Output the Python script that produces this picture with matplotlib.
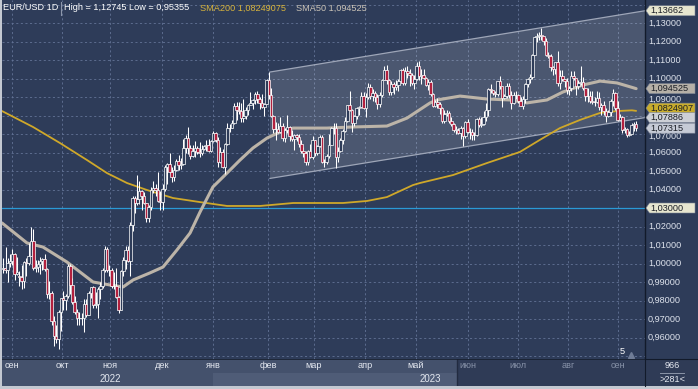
import matplotlib
matplotlib.use("Agg")
import matplotlib.pyplot as plt
from matplotlib.patches import Polygon, Rectangle
import numpy as np

# ---------------- data (EUR/USD daily, 25 Aug 2022 .. 13 Sep 2023) ----------------
opens = [
 0.9969, 0.9974, 0.9964, 1.0001, 1.0015, 1.0054, 0.9945, 0.9930, 0.9929, 0.9904,
 1.0009, 1.0001, 1.0040, 1.0120, 0.9975, 0.9979, 0.9997, 1.0016, 1.0025, 0.9971,
 0.9837, 0.9838, 0.9690, 0.9606, 0.9593, 0.9736, 0.9815, 0.9802, 0.9826, 0.9986,
 0.9885, 0.9793, 0.9740, 0.9703, 0.9706, 0.9703, 0.9779, 0.9722, 0.9840, 0.9875,
 0.9774, 0.9780, 0.9861, 0.9877, 0.9964, 1.0078, 0.9965, 0.9966, 0.9881, 0.9876,
 0.9818, 0.9751, 0.9960, 1.0017, 1.0075, 1.0011, 1.0210, 1.0355, 1.0326, 1.0347,
 1.0393, 1.0363, 1.0325, 1.0244, 1.0304, 1.0397, 1.0407, 1.0398, 1.0339, 1.0330,
 1.0405, 1.0522, 1.0537, 1.0493, 1.0468, 1.0505, 1.0556, 1.0531, 1.0538, 1.0627,
 1.0681, 1.0626, 1.0583, 1.0607, 1.0623, 1.0605, 1.0595, 1.0621, 1.0635, 1.0641,
 1.0610, 1.0661, 1.0705, 1.0669, 1.0548, 1.0604, 1.0522, 1.0644, 1.0731, 1.0734,
 1.0761, 1.0853, 1.0829, 1.0822, 1.0788, 1.0795, 1.0830, 1.0856, 1.0870, 1.0885,
 1.0916, 1.0891, 1.0868, 1.0847, 1.0863, 1.0990, 1.0910, 1.0795, 1.0727, 1.0726,
 1.0713, 1.0741, 1.0678, 1.0722, 1.0737, 1.0689, 1.0675, 1.0693, 1.0686, 1.0647,
 1.0606, 1.0596, 1.0546, 1.0607, 1.0576, 1.0667, 1.0596, 1.0635, 1.0682, 1.0550,
 1.0546, 1.0583, 1.0640, 1.0731, 1.0732, 1.0577, 1.0610, 1.0670, 1.0716, 1.0768,
 1.0857, 1.0830, 1.0760, 1.0799, 1.0843, 1.0844, 1.0905, 1.0839, 1.0901, 1.0956,
 1.0904, 1.0921, 1.0902, 1.0860, 1.0913, 1.0994, 1.1047, 1.0993, 1.0926, 1.0971,
 1.0955, 1.0967, 1.0989, 1.1048, 1.0973, 1.1042, 1.1028, 1.1019, 1.0974, 1.0995,
 1.1069, 1.1012, 1.1018, 1.1005, 1.0963, 1.0982, 1.0915, 1.0850, 1.0872, 1.0862,
 1.0842, 1.0770, 1.0806, 1.0813, 1.0771, 1.0752, 1.0724, 1.0724, 1.0706, 1.0735,
 1.0689, 1.0763, 1.0709, 1.0712, 1.0693, 1.0697, 1.0781, 1.0750, 1.0752, 1.0792,
 1.0831, 1.0945, 1.0939, 1.0920, 1.0917, 1.0985, 1.0958, 1.0893, 1.0905, 1.0962,
 1.0912, 1.0865, 1.0909, 1.0911, 1.0880, 1.0853, 1.0888, 1.0968, 1.0999, 1.1010,
 1.1128, 1.1226, 1.1228, 1.1237, 1.1228, 1.1200, 1.1128, 1.1124, 1.1064, 1.1054,
 1.1087, 1.0977, 1.1016, 1.0996, 1.0985, 1.0938, 1.0946, 1.1014, 1.1002, 1.0958,
 1.0974, 1.0981, 1.0946, 1.0904, 1.0907, 1.0876, 1.0872, 1.0871, 1.0896, 1.0845,
 1.0859, 1.0825, 1.0798, 1.0817, 1.0881, 1.0922, 1.0843, 1.0775, 1.0794, 1.0721,
 1.0726, 1.0697, 1.0699, 1.0751, 1.0753]
highs = [
 1.0030, 1.0090, 1.0028, 1.0054, 1.0080, 1.0055, 1.0033, 0.9960, 0.9990, 1.0011,
 1.0030, 1.0113, 1.0198, 1.0187, 1.0020, 1.0017, 1.0036, 1.0030, 1.0051, 0.9976,
 0.9907, 0.9852, 0.9715, 0.9670, 0.9748, 0.9816, 0.9853, 0.9835, 0.9999, 0.9997,
 0.9920, 0.9827, 0.9755, 0.9740, 0.9730, 0.9810, 0.9808, 0.9850, 0.9875, 0.9880,
 0.9848, 0.9875, 0.9900, 0.9977, 1.0094, 1.0090, 0.9990, 0.9975, 0.9953, 0.9976,
 0.9825, 0.9965, 1.0034, 1.0096, 1.0094, 1.0222, 1.0365, 1.0366, 1.0480, 1.0445,
 1.0398, 1.0388, 1.0328, 1.0315, 1.0414, 1.0448, 1.0430, 1.0497, 1.0390, 1.0428,
 1.0534, 1.0545, 1.0595, 1.0519, 1.0531, 1.0566, 1.0587, 1.0569, 1.0673, 1.0695,
 1.0737, 1.0640, 1.0640, 1.0660, 1.0635, 1.0659, 1.0640, 1.0640, 1.0665, 1.0673,
 1.0670, 1.0714, 1.0710, 1.0684, 1.0630, 1.0619, 1.0650, 1.0760, 1.0755, 1.0777,
 1.0868, 1.0875, 1.0874, 1.0867, 1.0888, 1.0845, 1.0860, 1.0927, 1.0890, 1.0929,
 1.0930, 1.0900, 1.0914, 1.0870, 1.1000, 1.1033, 1.0950, 1.0805, 1.0765, 1.0760,
 1.0790, 1.0760, 1.0730, 1.0805, 1.0745, 1.0720, 1.0700, 1.0700, 1.0700, 1.0665,
 1.0630, 1.0610, 1.0615, 1.0645, 1.0691, 1.0670, 1.0640, 1.0695, 1.0695, 1.0565,
 1.0590, 1.0700, 1.0737, 1.0760, 1.0760, 1.0630, 1.0680, 1.0725, 1.0790, 1.0857,
 1.0930, 1.0834, 1.0805, 1.0845, 1.0850, 1.0925, 1.0925, 1.0920, 1.0973, 1.0970,
 1.0942, 1.0935, 1.0915, 1.0925, 1.0998, 1.1066, 1.1075, 1.0995, 1.0985, 1.0980,
 1.0990, 1.1000, 1.1050, 1.1055, 1.1064, 1.1065, 1.1050, 1.1030, 1.1020, 1.1090,
 1.1092, 1.1050, 1.1050, 1.1010, 1.0995, 1.0990, 1.0920, 1.0885, 1.0895, 1.0875,
 1.0845, 1.0830, 1.0830, 1.0825, 1.0790, 1.0760, 1.0745, 1.0730, 1.0745, 1.0740,
 1.0770, 1.0780, 1.0730, 1.0725, 1.0710, 1.0785, 1.0790, 1.0790, 1.0823, 1.0865,
 1.0950, 1.0970, 1.0940, 1.0935, 1.0985, 1.1012, 1.0960, 1.0915, 1.0976, 1.0975,
 1.0935, 1.0925, 1.0935, 1.0915, 1.0900, 1.0905, 1.0975, 1.1005, 1.1025, 1.1135,
 1.1227, 1.1245, 1.1250, 1.12745, 1.1232, 1.1220, 1.1145, 1.1130, 1.1070, 1.1090,
 1.1150, 1.1045, 1.1045, 1.1000, 1.1005, 1.0960, 1.1040, 1.1040, 1.1005, 1.0990,
 1.1065, 1.1010, 1.0950, 1.0948, 1.0932, 1.0930, 1.0900, 1.0935, 1.0925, 1.0866,
 1.0876, 1.0840, 1.0830, 1.0890, 1.0945, 1.0925, 1.0880, 1.0810, 1.0800, 1.0740,
 1.0730, 1.0718, 1.0760, 1.0765, 1.0768]
lows = [
 0.9948, 0.9948, 0.9900, 0.9980, 0.9990, 0.9910, 0.9940, 0.9877, 0.9864, 0.9865,
 0.9930, 0.9993, 1.0040, 0.9966, 0.9955, 0.9956, 0.9945, 0.9966, 0.9960, 0.9811,
 0.9808, 0.9670, 0.9554, 0.9570, 0.95355, 0.9635, 0.9749, 0.9750, 0.9816, 0.9835,
 0.9780, 0.9727, 0.9670, 0.9668, 0.9668, 0.9632, 0.9709, 0.9720, 0.9814, 0.9758,
 0.9757, 0.9705, 0.9808, 0.9865, 0.9955, 0.9952, 0.9930, 0.9870, 0.9861, 0.9815,
 0.9730, 0.9747, 0.9935, 0.9972, 1.0007, 0.9935, 1.0176, 1.0271, 1.0318, 1.0322,
 1.0290, 1.0320, 1.0226, 1.0225, 1.0290, 1.0382, 1.0363, 1.0330, 1.0290, 1.0288,
 1.0391, 1.0430, 1.0490, 1.0443, 1.0445, 1.0500, 1.0503, 1.0510, 1.0530, 1.0595,
 1.0590, 1.0567, 1.0575, 1.0575, 1.0590, 1.0573, 1.0585, 1.0615, 1.0610, 1.0605,
 1.0605, 1.0655, 1.0655, 1.0520, 1.0545, 1.0515, 1.0484, 1.0640, 1.0713, 1.0730,
 1.0755, 1.0776, 1.0810, 1.0766, 1.0765, 1.0780, 1.0805, 1.0855, 1.0835, 1.0860,
 1.0866, 1.0835, 1.0840, 1.0800, 1.0860, 1.0890, 1.0792, 1.0708, 1.0670, 1.0705,
 1.0705, 1.0660, 1.0655, 1.0705, 1.0660, 1.0660, 1.0613, 1.0660, 1.0630, 1.0600,
 1.0577, 1.0533, 1.0535, 1.0570, 1.0565, 1.0580, 1.0585, 1.0630, 1.0545, 1.0524,
 1.0540, 1.0570, 1.0640, 1.0700, 1.0516, 1.0550, 1.0605, 1.0645, 1.0710, 1.0765,
 1.0823, 1.0713, 1.0745, 1.0780, 1.0805, 1.0843, 1.0834, 1.0790, 1.0890, 1.0890,
 1.0880, 1.0875, 1.0835, 1.0845, 1.0900, 1.0990, 1.0970, 1.0911, 1.0910, 1.0915,
 1.0940, 1.0935, 1.0975, 1.0964, 1.0965, 1.1005, 1.0960, 1.0965, 1.0942, 1.0990,
 1.0990, 1.0970, 1.0995, 1.0960, 1.0940, 1.0905, 1.0848, 1.0845, 1.0843, 1.0810,
 1.0760, 1.0760, 1.0800, 1.0760, 1.0745, 1.0710, 1.0700, 1.0700, 1.0675, 1.0635,
 1.0680, 1.0705, 1.0675, 1.0667, 1.0665, 1.0690, 1.0740, 1.0740, 1.0750, 1.0770,
 1.0795, 1.0920, 1.0910, 1.0900, 1.0905, 1.0945, 1.0845, 1.0890, 1.0895, 1.0895,
 1.0835, 1.0860, 1.0890, 1.0870, 1.0850, 1.0833, 1.0870, 1.0955, 1.0975, 1.0995,
 1.1122, 1.1195, 1.1210, 1.1210, 1.1180, 1.1120, 1.1110, 1.1040, 1.1020, 1.1025,
 1.0960, 1.0945, 1.0985, 1.0955, 1.0915, 1.0910, 1.0935, 1.0990, 1.0913, 1.0945,
 1.0965, 1.0940, 1.0877, 1.0875, 1.0865, 1.0860, 1.0852, 1.0865, 1.0830, 1.0802,
 1.0805, 1.0765, 1.0790, 1.0800, 1.0850, 1.0830, 1.0770, 1.0775, 1.0705, 1.0705,
 1.0686, 1.0687, 1.0699, 1.0715, 1.0715]
closes = [
 0.9974, 0.9964, 1.0001, 1.0015, 1.0054, 0.9945, 0.9954, 0.9929, 0.9904, 1.0009,
 1.0001, 1.0040, 1.0120, 0.9975, 0.9979, 0.9997, 1.0016, 1.0025, 0.9971, 0.9837,
 0.9838, 0.9690, 0.9606, 0.9593, 0.9736, 0.9815, 0.9802, 0.9826, 0.9986, 0.9885,
 0.9793, 0.9740, 0.9703, 0.9706, 0.9703, 0.9779, 0.9722, 0.9840, 0.9875, 0.9774,
 0.9780, 0.9861, 0.9877, 0.9964, 1.0078, 0.9965, 0.9966, 0.9881, 0.9876, 0.9818,
 0.9751, 0.9960, 1.0017, 1.0075, 1.0011, 1.0210, 1.0355, 1.0326, 1.0347, 1.0393,
 1.0363, 1.0325, 1.0244, 1.0304, 1.0397, 1.0407, 1.0398, 1.0339, 1.0330, 1.0405,
 1.0522, 1.0537, 1.0493, 1.0468, 1.0505, 1.0556, 1.0531, 1.0538, 1.0627, 1.0681,
 1.0626, 1.0583, 1.0607, 1.0623, 1.0605, 1.0595, 1.0621, 1.0635, 1.0641, 1.0610,
 1.0661, 1.0705, 1.0669, 1.0548, 1.0604, 1.0522, 1.0644, 1.0731, 1.0734, 1.0761,
 1.0853, 1.0829, 1.0822, 1.0788, 1.0795, 1.0830, 1.0856, 1.0870, 1.0885, 1.0916,
 1.0891, 1.0868, 1.0847, 1.0863, 1.0990, 1.0910, 1.0795, 1.0727, 1.0726, 1.0713,
 1.0741, 1.0678, 1.0722, 1.0737, 1.0689, 1.0675, 1.0693, 1.0686, 1.0647, 1.0606,
 1.0596, 1.0546, 1.0607, 1.0576, 1.0667, 1.0596, 1.0635, 1.0682, 1.0550, 1.0546,
 1.0583, 1.0640, 1.0731, 1.0732, 1.0577, 1.0610, 1.0670, 1.0716, 1.0768, 1.0857,
 1.0830, 1.0760, 1.0799, 1.0843, 1.0844, 1.0905, 1.0839, 1.0901, 1.0956, 1.0904,
 1.0921, 1.0902, 1.0860, 1.0913, 1.0994, 1.1047, 1.0993, 1.0926, 1.0971, 1.0955,
 1.0967, 1.0989, 1.1048, 1.0973, 1.1042, 1.1028, 1.1019, 1.0974, 1.0995, 1.1069,
 1.1012, 1.1018, 1.1005, 1.0963, 1.0982, 1.0915, 1.0850, 1.0872, 1.0862, 1.0842,
 1.0770, 1.0806, 1.0813, 1.0771, 1.0752, 1.0724, 1.0724, 1.0706, 1.0735, 1.0689,
 1.0763, 1.0709, 1.0712, 1.0693, 1.0697, 1.0781, 1.0750, 1.0752, 1.0792, 1.0831,
 1.0945, 1.0939, 1.0920, 1.0917, 1.0985, 1.0958, 1.0893, 1.0905, 1.0962, 1.0912,
 1.0865, 1.0909, 1.0911, 1.0880, 1.0853, 1.0888, 1.0968, 1.0999, 1.1010, 1.1128,
 1.1226, 1.1228, 1.1237, 1.1228, 1.1200, 1.1128, 1.1124, 1.1064, 1.1054, 1.1087,
 1.0977, 1.1016, 1.0996, 1.0985, 1.0938, 1.0946, 1.1014, 1.1002, 1.0958, 1.0974,
 1.0981, 1.0946, 1.0904, 1.0907, 1.0876, 1.0872, 1.0871, 1.0896, 1.0845, 1.0859,
 1.0825, 1.0798, 1.0817, 1.0881, 1.0922, 1.0843, 1.0775, 1.0794, 1.0721, 1.0726,
 1.0697, 1.0699, 1.0751, 1.0753, 1.07315]

# moving averages (bar position, value)
sma50_x = [-0.5, 10.3, 17.2, 27.6, 38.9, 46.2, 51.9, 56.2, 63.5, 69.2, 75.2, 80.9,
           85.2, 90.8, 96.9, 102.5, 108.1, 114.2, 119.8, 125.5, 140.2, 151.4, 166.1,
           174.8, 184.8, 187.8, 197.8, 209.4, 219.4, 226.7, 235.4, 242.3, 251.0,
           258.4, 265.7, 272.2, 274.0]
sma50_y = [1.0219, 1.0111, 1.0089, 1.0008, 0.9900, 0.9884, 0.9873, 0.9911, 0.9949,
           0.9981, 1.0073, 1.0165, 1.0278, 1.0414, 1.0489, 1.0559, 1.0624, 1.0678,
           1.0711, 1.0732, 1.0732, 1.0738, 1.0743, 1.0786, 1.0868, 1.0884, 1.0905,
           1.0889, 1.0884, 1.0868, 1.0884, 1.0927, 1.0965, 1.0986, 1.0976, 1.0952,
           1.094525]
sma200_x = [-0.5, 12.9, 24.6, 36.3, 44.9, 53.6, 62.3, 73.5, 85.2, 96.9, 111.2, 125.5,
            147.1, 157.5, 166.1, 177.4, 180.4, 194.7, 209.4, 223.7, 232.3, 241.0,
            249.7, 258.4, 265.7, 272.2, 274.0]
sma200_y = [1.0824, 1.0738, 1.0651, 1.0559, 1.0489, 1.0435, 1.0397, 1.0354, 1.0332,
            1.0311, 1.0311, 1.0327, 1.0327, 1.0338, 1.0359, 1.0424, 1.0435, 1.0478,
            1.0543, 1.0603, 1.0668, 1.0732, 1.0776, 1.0814, 1.0824, 1.0828,
            1.08249075]

channel_x = [115.5, 277.84]
channel_upper = [1.1035, 1.13662]
channel_lower = [1.0460, 1.07886]
hline_level = 1.03

month_pos = [3.8, 25.5, 46.2, 68.7, 90.8, 114.6, 134.5, 156.6, 178.7, 201.2, 222.9, 244.5, 266.1]
month_labels = ["сен", "окт", "ноя", "дек", "янв", "фев", "мар", "апр", "май",
                "июн", "июл", "авг", "сен"]
year_labels = ["2022", "2023"]
year_pos = [46.2, 184.8]
price_levels = [0.96, 0.97, 0.98, 0.99, 1.00, 1.01, 1.02, 1.04, 1.05, 1.06,
                1.07, 1.09, 1.10, 1.11, 1.12, 1.13]
grid_levels = [round(0.95 + 0.01 * k, 2) for k in range(20)]

# ---------------- layout ----------------
W, H = 698, 389
BG = '#2e3c59'
FONT = 'Liberation Sans'
FS = 6.6
plt.rcParams['font.family'] = [FONT, 'DejaVu Sans']
fig = plt.figure(figsize=(W / 100, H / 100), dpi=100, facecolor='#c3c8d1')


def box(x0, y0, x1, y1):
    return [x0 / W, 1 - y1 / H, (x1 - x0) / W, (y1 - y0) / H]


XL = (-0.52, 277.84)
YL = (1.03 - 151 / 1850, 1.03 + 208 / 1850)

ax = fig.add_axes(box(2, 0, 645, 359))
ax.set_facecolor(BG)
ax.set_xlim(*XL)
ax.set_ylim(*YL)
ax.set_xticks([])
ax.set_yticks([])
for s in ax.spines.values():
    s.set_visible(False)

dash = (0, (2.5, 3))
ax.hlines(grid_levels, XL[0], XL[1], colors='#637396', linewidth=0.6, linestyles=[dash], zorder=1)
ax.vlines(month_pos, YL[0], YL[1], colors='#637396', linewidth=0.6, linestyles=[dash], zorder=1)

# channel
ax.add_patch(Polygon([(channel_x[0], channel_lower[0]), (channel_x[0], channel_upper[0]),
                      (channel_x[1], channel_upper[1]), (channel_x[1], channel_lower[1])],
                     closed=True, facecolor='white', alpha=0.14, edgecolor='none', zorder=1.5))
ax.plot(channel_x, channel_upper, color='#9ea6b8', lw=0.9, zorder=2)
ax.plot(channel_x, channel_lower, color='#9ea6b8', lw=0.9, zorder=2)

ax.axhline(hline_level, color='#2a9ad6', lw=0.9, zorder=2.5)

ax.plot(sma200_x, sma200_y, color='#cfa82a', lw=1.3, zorder=3, solid_capstyle='round')
ax.plot(sma50_x, sma50_y, color='#bcb4a8', lw=2.2, zorder=3, solid_capstyle='round')

# candles
o = np.array(opens)
c = np.array(closes)
idx = np.arange(len(c))
up = c >= o
ax.vlines(idx, lows, highs, colors='white', linewidth=0.75, zorder=4)
body = np.maximum(np.abs(c - o), 0.00025)
ax.bar(idx, body, bottom=np.minimum(o, c), width=1.15,
       color=[BG if u else '#b2203e' for u in up], edgecolor='white', linewidth=0.5, zorder=5)

# "5" marker near bottom
ax.text((620 - 2) / 643, 1 - 352 / 359, "5", transform=ax.transAxes, color='white',
        fontsize=FS, ha='left', va='center')
ax.plot([(631 - 2) / 643], [1 - 355 / 359], marker='^', ms=4, color='#6f7c96',
        transform=ax.transAxes, clip_on=False)

# header
def ftxt(x, y, s, color, **kw):
    fig.text(x / W, 1 - y / H, s, color=color, fontsize=FS, ha='left', va='center', **kw)

fmt = lambda v, n: f"{v:.{n}f}".replace('.', ',')
ftxt(3, 8, "EUR/USD 1D", 'white')
fig.add_artist(plt.Line2D([61 / W, 61 / W], [1 - 2 / H, 1 - 15 / H], color='#8d97ab', lw=0.8))
ftxt(64, 8, f"High = {fmt(max(highs), 5)} Low = {fmt(min(lows), 5)}", 'white')
ftxt(200, 8, f"SMA200 {fmt(sma200_y[-1], 8)}", '#d8b43c')
ftxt(296, 8, f"SMA50 {fmt(sma50_y[-1], 6)}", '#cbc4b8')

# right price axis
rax = fig.add_axes(box(645, 0, 698, 359))
rax.set_facecolor(BG)
rax.set_xlim(0, 53)
rax.set_ylim(*YL)
rax.set_xticks([])
rax.set_yticks([])
for k, s in rax.spines.items():
    s.set_visible(k == 'left')
rax.spines['left'].set_color('#121a2a')
rax.spines['left'].set_linewidth(1.0)
for lv in price_levels:
    off = {1.09: -0.0010, 1.07: -0.0012}.get(lv, 0.0)
    rax.text(3, lv + off, fmt(lv, 5), color='#dde2ec', fontsize=FS, va='center', ha='left')

hh = 5 / 1850


def tag(v, text, face):
    rax.add_patch(Polygon([(1, v), (4.5, v + hh), (50, v + hh), (50, v - hh), (4.5, v - hh)],
                          closed=True, facecolor=face, edgecolor='#7d8596', lw=0.4, zorder=5))
    rax.text(5, v, text, color='#1b1e26', fontsize=FS, va='center', ha='left', zorder=6,
             clip_on=True)


tag(channel_upper[1], fmt(channel_upper[1], 5), '#e7e6cf')
tag(sma50_y[-1], fmt(sma50_y[-1], 6), '#b6b0a7')
tag(sma200_y[-1] + 0.0015, fmt(sma200_y[-1], 8)[:9], '#c9ad2c')
tag(channel_lower[1], fmt(channel_lower[1], 5), '#cdd0d6')
tag(closes[-1], fmt(closes[-1], 5), '#c6cbd6')
tag(hline_level, fmt(hline_level, 5), '#e7e6cf')

# bottom time axis
bax = fig.add_axes(box(2, 359, 645, 386))
bax.set_xlim(*XL)
bax.set_ylim(27, 0)
bax.set_facecolor('#44516c')
bax.set_xticks([])
bax.set_yticks([])
for s in bax.spines.values():
    s.set_visible(False)
split_a, split_b = month_pos[4], 196.5
bax.add_patch(Rectangle((split_a, 13.5), split_b - split_a, 13.5, facecolor='#4f5c77', edgecolor='none'))
bax.add_patch(Rectangle((split_b, 0), XL[1] - split_b, 27, facecolor='#2f3b56', edgecolor='none'))
bax.axvline(split_b, color='#222b40', lw=1.0)
bax.axhline(0.3, color='#18202f', lw=1.2)
for p, lab in zip(month_pos, month_labels):
    bax.text(p, 7, lab, ha='center', va='center', fontsize=FS,
             color='#e4e8f0' if p < split_b else '#8792a8')
for p, lab in zip(year_pos, year_labels):
    bax.text(p, 20, lab, ha='center', va='center', fontsize=FS + 0.4, color='#e4e8f0')

rbax = fig.add_axes(box(645, 359, 698, 386))
rbax.set_xlim(0, 53)
rbax.set_ylim(27, 0)
rbax.set_facecolor('#2f3b56')
rbax.set_xticks([])
rbax.set_yticks([])
for k, s in rbax.spines.items():
    s.set_visible(k in ('left', 'top'))
    s.set_color('#121a2a')
rbax.text(27, 7, "966", ha='center', va='center', fontsize=FS, color='#e4e8f0')
rbax.plot([15, 39], [13.5, 13.5], color='#8a94a8', lw=0.7)
rbax.text(27, 20, ">281<", ha='center', va='center', fontsize=FS, color='#e4e8f0')

fig.savefig("out.png", dpi=100, facecolor=fig.get_facecolor())
